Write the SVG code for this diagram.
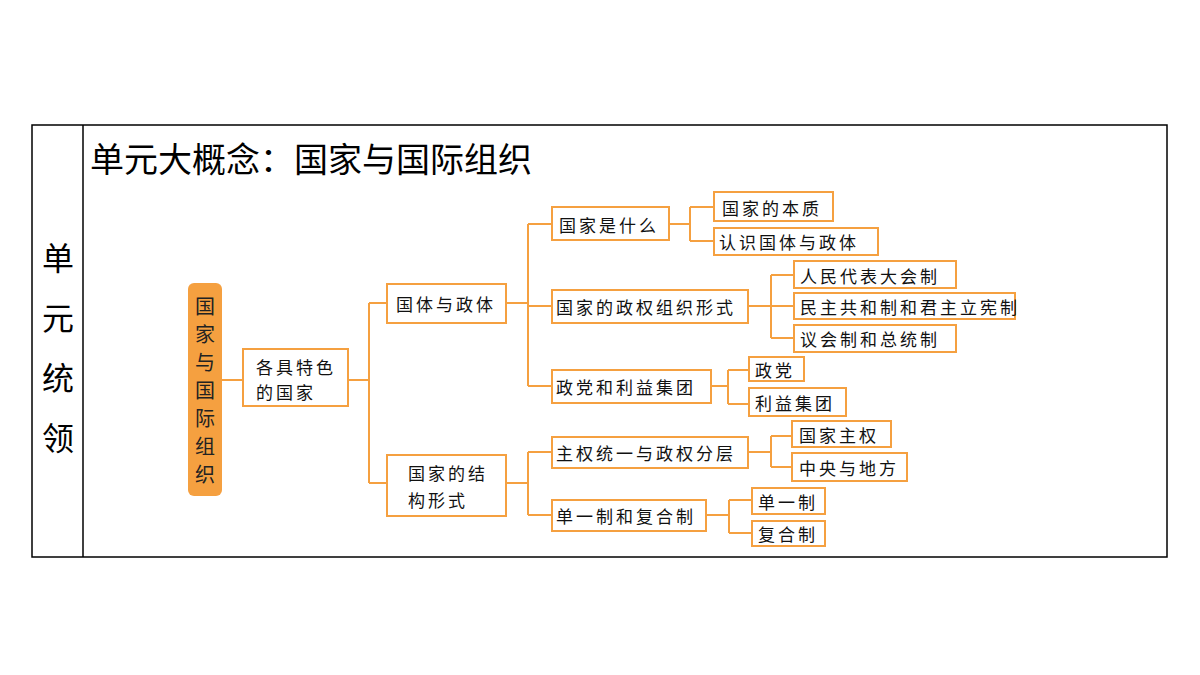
<svg xmlns="http://www.w3.org/2000/svg" width="1200" height="675" viewBox="0 0 1200 675">
<style>
.b{fill:#fff;stroke:#F5A040;stroke-width:2}
.t{font-family:"Noto Sans CJK SC","Noto Sans",sans-serif;font-size:17px;fill:#111;letter-spacing:3px;dominant-baseline:central}
.c{fill:none;stroke:#F5A040;stroke-width:2}
.big{font-family:"Noto Sans CJK SC",sans-serif;font-size:32px;fill:#000}
</style>
<rect width="1200" height="675" fill="#fff"/>
<rect x="32" y="125" width="1135" height="432" fill="none" stroke="#000" stroke-width="1.5"/>
<line x1="83" y1="125" x2="83" y2="557" stroke="#000" stroke-width="1.5"/>
<g class="big" text-anchor="middle">
<text x="58" y="270">单</text><text x="58" y="330">元</text><text x="58" y="390">统</text><text x="58" y="450">领</text>
</g>
<text class="big" x="90" y="172" style="font-size:34px">单元大概念：国家与国际组织</text>
<g id="connectors" class="c">
<path d="M222 380H243M348 380H369M369 303V483M369 303H387M369 483H387"/>
<path d="M506 303H528M528 224V386M528 224H552M528 306H552M528 386H552"/>
<path d="M506 483H528M528 452V515M528 452H552M528 515H552"/>
<path d="M669 224H690M690 207V241M690 207H714M690 241H714"/>
<path d="M748 306H794M771 275V338M771 275H794M771 338H794"/>
<path d="M711 386H728M728 370V404M728 370H749M728 404H749"/>
<path d="M748 452H771M771 436V467M771 436H792M771 467H792"/>
<path d="M706 515H729M729 500V533M729 500H752M729 533H752"/>
</g>
<g id="root"><rect x="188" y="283" width="34" height="213" rx="6" fill="#F5A040"/>
<g font-family="Noto Sans CJK SC,sans-serif" font-size="20" fill="#222" text-anchor="middle">
<text x="205" y="314">国</text><text x="205" y="342">家</text><text x="205" y="370">与</text><text x="205" y="398">国</text><text x="205" y="426">际</text><text x="205" y="454">组</text><text x="205" y="482">织</text></g></g>
<g id="n1"><rect class="b" x="243" y="349" width="105" height="57"/><text class="t" x="256" y="366">各具特色</text><text class="t" x="256" y="391">的国家</text></g>
<g id="n2"><rect class="b" x="387" y="284" width="119" height="39"/><text class="t" x="396" y="303">国体与政体</text></g>
<g id="n3"><rect class="b" x="387" y="455" width="119" height="61"/><text class="t" x="408" y="472">国家的结</text><text class="t" x="408" y="499">构形式</text></g>
<g id="n4"><rect class="b" x="552" y="207" width="117" height="33"/><text class="t" x="559" y="224">国家是什么</text></g>
<g id="n5"><rect class="b" x="552" y="290" width="196" height="33"/><text class="t" x="556" y="306">国家的政权组织形式</text></g>
<g id="n6"><rect class="b" x="552" y="370" width="159" height="33"/><text class="t" x="556" y="386">政党和利益集团</text></g>
<g id="n7"><rect class="b" x="552" y="437" width="196" height="31"/><text class="t" x="556" y="452">主权统一与政权分层</text></g>
<g id="n8"><rect class="b" x="552" y="500" width="154" height="31"/><text class="t" x="556" y="515">单一制和复合制</text></g>
<g id="n9"><rect class="b" x="714" y="192" width="119" height="29"/><text class="t" x="722" y="207">国家的本质</text></g>
<g id="n10"><rect class="b" x="714" y="228" width="164" height="27"/><text class="t" x="719" y="241">认识国体与政体</text></g>
<g id="n11"><rect class="b" x="794" y="261" width="162" height="27"/><text class="t" x="800" y="275">人民代表大会制</text></g>
<g id="n12"><rect class="b" x="794" y="293" width="221" height="26"/><text class="t" x="800" y="306">民主共和制和君主立宪制</text></g>
<g id="n13"><rect class="b" x="794" y="325" width="162" height="27"/><text class="t" x="800" y="338">议会制和总统制</text></g>
<g id="n14"><rect class="b" x="749" y="357" width="55" height="24"/><text class="t" x="755" y="369">政党</text></g>
<g id="n15"><rect class="b" x="749" y="388" width="97" height="28"/><text class="t" x="755" y="402">利益集团</text></g>
<g id="n16"><rect class="b" x="792" y="421" width="99" height="26"/><text class="t" x="799" y="434">国家主权</text></g>
<g id="n17"><rect class="b" x="792" y="453" width="115" height="28"/><text class="t" x="799" y="467">中央与地方</text></g>
<g id="n18"><rect class="b" x="752" y="488" width="73" height="26"/><text class="t" x="758" y="501">单一制</text></g>
<g id="n19"><rect class="b" x="752" y="521" width="73" height="25"/><text class="t" x="758" y="533">复合制</text></g>
</svg>
